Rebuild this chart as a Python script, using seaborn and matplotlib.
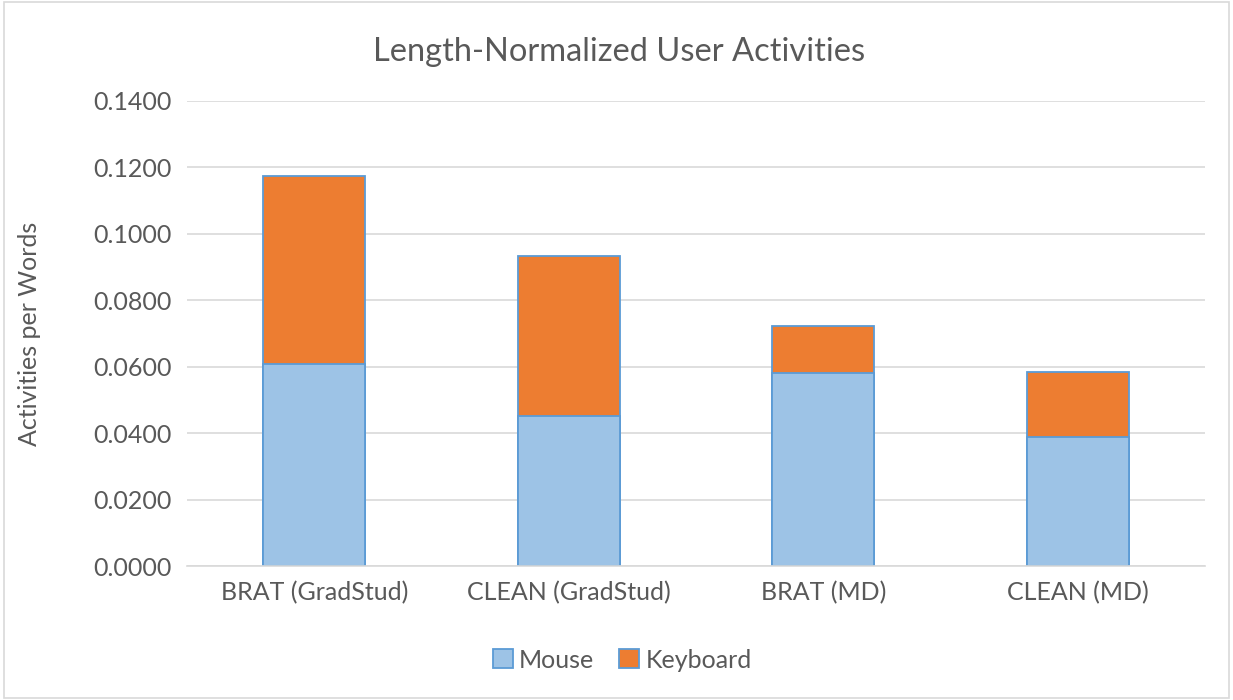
import numpy as np
import pandas as pd
import matplotlib
matplotlib.use("Agg")
import matplotlib.pyplot as plt
import seaborn as sns
from matplotlib.patches import Patch, Rectangle

# values
groups = ["BRAT (GradStud)", "CLEAN (GradStud)", "BRAT (MD)", "CLEAN (MD)"]
mouse = [0.0607, 0.0451, 0.0582, 0.0389]
keyboard = [0.0567, 0.0482, 0.0140, 0.0194]
yticks = [0.0, 0.02, 0.04, 0.06, 0.08, 0.10, 0.12, 0.14]

mouse_color = "#9DC3E6"
key_color = "#ED7D31"
edge_color = "#5B9BD5"
text_color = "#595959"

sns.set_style("white")
plt.rcParams["font.family"] = ["Lato", "DejaVu Sans"]

df = pd.DataFrame({"group": groups, "mouse": mouse, "keyboard": keyboard})
df["total"] = df["mouse"] + df["keyboard"]

fig = plt.figure(figsize=(12.33, 7), dpi=100)
ax = fig.add_axes([187 / 1233, 1 - 566 / 700, (1205 - 187) / 1233, (566 - 101) / 700])

# stacked: full height in orange, mouse part in blue on top of it
sns.barplot(data=df, x="group", y="total", color=key_color, width=0.4,
            edgecolor=edge_color, linewidth=1.3, saturation=1, ax=ax)
sns.barplot(data=df, x="group", y="mouse", color=mouse_color, width=0.4,
            edgecolor=edge_color, linewidth=1.3, saturation=1, ax=ax)

ax.set_ylim(0, 0.14)
ax.set_xlim(-0.5, 3.5)
ax.set_yticks(yticks)
ax.set_yticklabels([f"{v:.4f}" for v in yticks])
ax.grid(axis="y", color="#D9D9D9", linewidth=1.2)
ax.set_axisbelow(True)
for s in ["top", "right", "left"]:
    ax.spines[s].set_visible(False)
ax.spines["bottom"].set_color("#D9D9D9")
ax.spines["bottom"].set_linewidth(1.2)
ax.tick_params(axis="both", length=0, labelsize=18, colors=text_color, pad=11)
ax.set_xlabel("")
ax.set_ylabel("Activities per Words", fontsize=18, color=text_color)
ax.yaxis.set_label_coords(-146 / 1018, 0.5)

fig.text(619 / 1233, 1 - 52 / 700, "Length-Normalized User Activities",
         ha="center", va="center", fontsize=23.5, color=text_color)

handles = [Patch(facecolor=mouse_color, edgecolor=edge_color, linewidth=1.3, label="Mouse"),
           Patch(facecolor=key_color, edgecolor=edge_color, linewidth=1.3, label="Keyboard")]
fig.legend(handles=handles, loc="center", bbox_to_anchor=(622 / 1233, 1 - 660 / 700),
           ncol=2, frameon=False, fontsize=18, labelcolor=text_color,
           handlelength=0.8, handleheight=0.8, handletextpad=0.25, columnspacing=1.0)

# light chart-area border
fig.patches.append(Rectangle((0.003, 0.003), 0.994, 0.994, transform=fig.transFigure,
                             fill=False, edgecolor="#D9D9D9", linewidth=1.2))

fig.savefig("out.png", dpi=100)
